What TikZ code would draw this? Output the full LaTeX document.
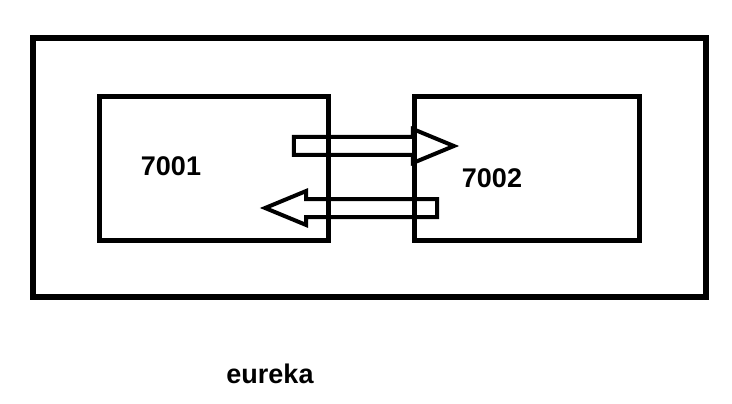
\documentclass[tikz,border=0pt]{standalone}
\usepackage{fontspec}
\setmainfont{Liberation Sans}
\usetikzlibrary{shapes.arrows}
\tikzset{
  box/.style={draw, line width=5pt, inner sep=0pt},
  fat arrow/.style={draw, line width=4pt, single arrow, inner xsep=0pt,
    inner ysep=7pt, single arrow head extend=8pt,
    single arrow tip angle=45, single arrow head indent=0pt},
  lbl/.style={font=\fontsize{27}{32}\selectfont\bfseries}
}
\begin{document}
\begin{tikzpicture}[x=1pt,y=-1pt]
\useasboundingbox (0,0) rectangle (732,404);
\draw[line width=6pt] (33,38) rectangle (706,297);

\node (left)  [box, minimum width=229pt, minimum height=143pt] at (213.5,168.5) {};
\node (right) [box, minimum width=225pt, minimum height=143pt] at (526.5,168.5) {};

\node (n1) at (171,166) [lbl] {7001};
\node (n2) at (492,178) [lbl] {7002};

\node (to)   [fat arrow, minimum height=160pt] at (363,146) {};
\node (back) [fat arrow, minimum height=172pt, shape border rotate=180] at (362,208) {};

\node (cap) at (270,374) [lbl] {eureka};
\end{tikzpicture}
\end{document}
